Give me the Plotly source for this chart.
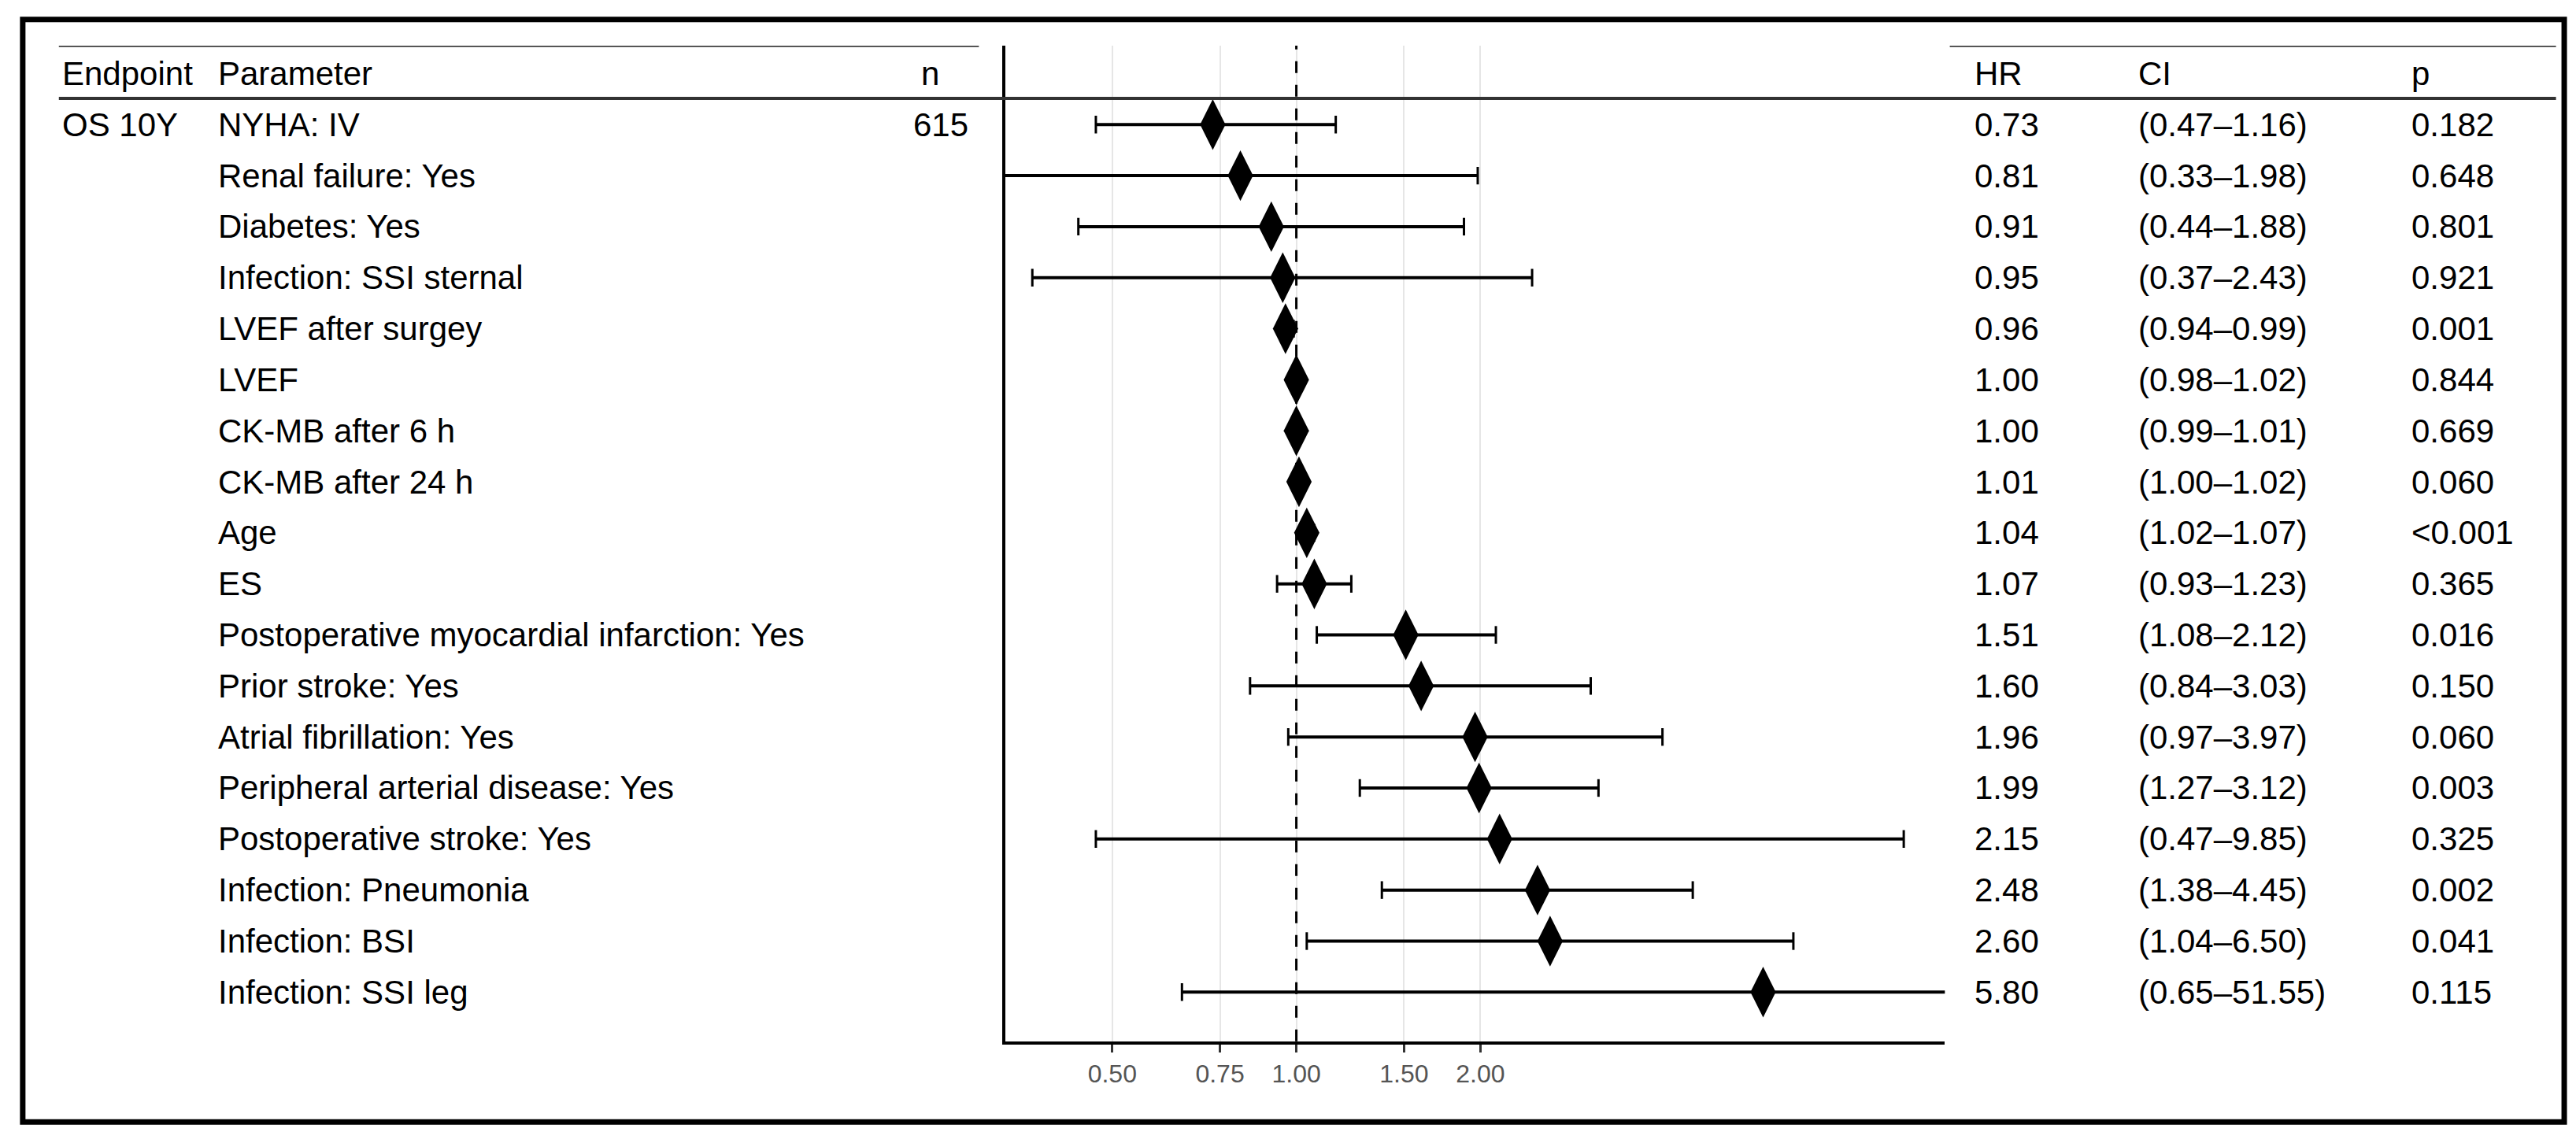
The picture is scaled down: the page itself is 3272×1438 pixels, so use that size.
import math
import plotly.graph_objects as go

params = ["NYHA: IV", "Renal failure: Yes", "Diabetes: Yes", "Infection: SSI sternal",
          "LVEF after surgey", "LVEF", "CK-MB after 6 h", "CK-MB after 24 h", "Age", "ES",
          "Postoperative myocardial infarction: Yes", "Prior stroke: Yes", "Atrial fibrillation: Yes",
          "Peripheral arterial disease: Yes", "Postoperative stroke: Yes", "Infection: Pneumonia",
          "Infection: BSI", "Infection: SSI leg"]
hr = [0.73, 0.81, 0.91, 0.95, 0.96, 1.00, 1.00, 1.01, 1.04, 1.07, 1.51, 1.60, 1.96, 1.99, 2.15, 2.48, 2.60, 5.80]
lo = [0.47, 0.33, 0.44, 0.37, 0.94, 0.98, 0.99, 1.00, 1.02, 0.93, 1.08, 0.84, 0.97, 1.27, 0.47, 1.38, 1.04, 0.65]
hi = [1.16, 1.98, 1.88, 2.43, 0.99, 1.02, 1.01, 1.02, 1.07, 1.23, 2.12, 3.03, 3.97, 3.12, 9.85, 4.45, 6.50, 51.55]
hr_txt = ["0.73","0.81","0.91","0.95","0.96","1.00","1.00","1.01","1.04","1.07","1.51","1.60","1.96","1.99","2.15","2.48","2.60","5.80"]
ci_txt = ["(0.47–1.16)","(0.33–1.98)","(0.44–1.88)","(0.37–2.43)","(0.94–0.99)","(0.98–1.02)","(0.99–1.01)",
          "(1.00–1.02)","(1.02–1.07)","(0.93–1.23)","(1.08–2.12)","(0.84–3.03)","(0.97–3.97)","(1.27–3.12)",
          "(0.47–9.85)","(1.38–4.45)","(1.04–6.50)","(0.65–51.55)"]
p_txt = ["0.182","0.648","0.801","0.921","0.001","0.844","0.669","0.060","<0.001","0.365","0.016","0.150",
         "0.060","0.003","0.325","0.002","0.041","0.115"]
endpoint = "OS 10Y"
n_val = "615"
ticks = [0.5, 0.75, 1.0, 1.5, 2.0]
tick_labels = ["0.50", "0.75", "1.00", "1.50", "2.00"]

XMIN, XMAX = 0.334, 11.5
rows = list(range(len(params)))
W, H = 1568.0, 689.0
def px(x): return x / W
def rowy(yd): return (yd - 72) / 31.06

FONT = "Liberation Sans Narrow, Liberation Sans, Arial"
fig = go.Figure()

lx, ly = [], []
for i in rows:
    lx += [lo[i], hi[i], None]; ly += [i, i, None]
fig.add_trace(go.Scatter(x=lx, y=ly, mode="lines", line=dict(color="black", width=4),
                         hoverinfo="skip", showlegend=False))
cx, cy = [], []
for i in rows:
    for v in (lo[i], hi[i]):
        if XMIN < v < XMAX:
            cx.append(v); cy.append(i)
fig.add_trace(go.Scatter(x=cx, y=cy, mode="markers",
                         marker=dict(symbol="line-ns", size=16, line=dict(color="black", width=3)),
                         hoverinfo="skip", showlegend=False))
fig.add_trace(go.Scatter(x=hr, y=rows, mode="markers",
                         marker=dict(symbol="diamond-tall", size=46, color="black"),
                         showlegend=False))

fig.update_xaxes(type="log", range=[math.log10(XMIN), math.log10(XMAX)],
                 domain=[px(608), px(1180)], tickvals=ticks, ticktext=tick_labels,
                 showgrid=True, gridcolor="#e6e6e6", gridwidth=2, zeroline=False,
                 showline=True, linecolor="black", linewidth=4, ticks="outside", ticklen=10,
                 tickwidth=3, tickcolor="#333", tickfont=dict(family=FONT, size=32, color="#555"))
fig.update_yaxes(range=[rowy(630), rowy(24)], domain=[1 - 630 / H, 1 - 24 / H],
                 showticklabels=False, showgrid=False, zeroline=False,
                 showline=True, linecolor="black", linewidth=4)

fig.add_shape(type="line", xref="x", yref="paper", x0=1, x1=1, y0=1 - 630 / H, y1=1 - 24 / H,
              line=dict(color="black", width=3, dash="longdash"))

for (x0, x1, yd, c) in [(32, 592, 24, "#555"), (1183, 1552, 24, "#555"), (32, 1552, 56, "#333")]:
    fig.add_shape(type="line", xref="paper", yref="y", x0=px(x0), x1=px(x1), y0=rowy(yd), y1=rowy(yd),
                  line=dict(color=c, width=4))

fig.add_shape(type="rect", xref="paper", yref="paper", x0=px(10), x1=px(1557), y0=1 - 679 / H, y1=1 - 8 / H,
              line=dict(color="black", width=7))

def txt(xd, y, s):
    fig.add_annotation(xref="paper", yref="y", x=px(xd), y=y, text=s, showarrow=False,
                       xanchor="left", yanchor="middle", font=dict(family=FONT, size=42, color="black"))

hy = rowy(41)
for xd, s in [(33, "Endpoint"), (128, "Parameter"), (556, "n"), (1197, "HR"), (1297, "CI"), (1463, "p")]:
    txt(xd, hy, s)
txt(33, 0, endpoint)
txt(551, 0, n_val)
for i in rows:
    txt(128, i, params[i])
    txt(1197, i, hr_txt[i])
    txt(1297, i, ci_txt[i])
    txt(1463, i, p_txt[i])

fig.update_layout(width=3272, height=1438, margin=dict(l=0, r=0, t=0, b=0),
                  plot_bgcolor="white", paper_bgcolor="white")
fig.write_html("out.html")
